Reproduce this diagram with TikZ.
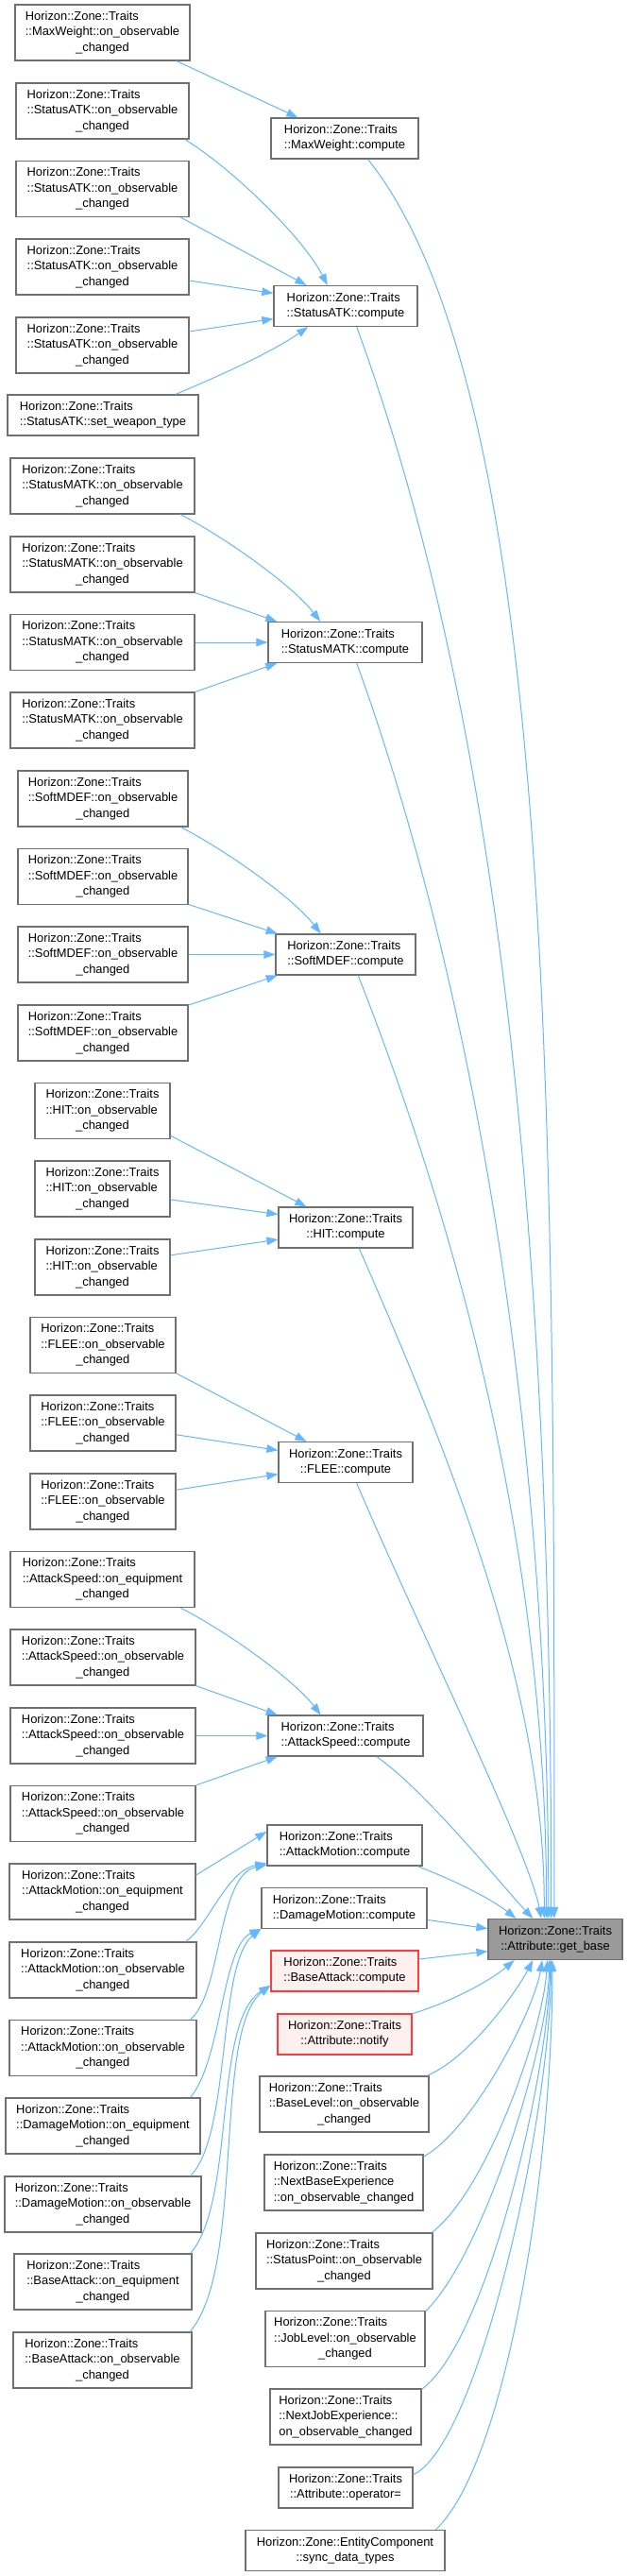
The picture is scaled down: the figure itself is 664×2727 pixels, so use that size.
\documentclass[tikz,border=0pt]{standalone}
\usepackage{fontspec}
\setmainfont{Liberation Sans}
\usetikzlibrary{arrows.meta}

\definecolor{edgeblue}{HTML}{63B8FF}
\definecolor{boxline}{HTML}{707070}
\definecolor{hotline}{HTML}{FF3C3C}
\definecolor{hotfill}{HTML}{FFF0F0}
\definecolor{curfill}{HTML}{9A9A9A}

% label with left lines and a centred last line
\newcommand{\labthree}[3]{\begin{tabular}{@{}l@{}}#1\\#2\\\multicolumn{1}{@{}c@{}}{#3}\end{tabular}}
\newcommand{\labtwo}[2]{\begin{tabular}{@{}l@{}}#1\\\multicolumn{1}{@{}c@{}}{#2}\end{tabular}}
\newcommand{\hzt}{Horizon::Zone::Traits}

\begin{document}
\begin{tikzpicture}[x=1pt, y=-1pt,
    fn/.style={draw=boxline, line width=1.2pt, fill=white, inner sep=0pt,
        minimum height=59pt, font=\fontsize{12.9}{16.3}\selectfont},
    fntwo/.style={fn, minimum height=43pt},
    hot/.style={fntwo, draw=hotline, fill=hotfill},
    cur/.style={fntwo, fill=curfill},
    edge/.style={draw=edgeblue, line width=1pt,
        -{Triangle[length=12pt, width=8.5pt]}}]
    \fill[white] (0, 0) rectangle (664, 2727);
    \useasboundingbox (0, 0) rectangle (664, 2727);

    % callers, left column
    \node[fn, minimum width=185pt] (mwobs) at (108.5, 34.5)
        {\labthree{\hzt}{::MaxWeight::on\_observable}{\_changed}};
    \foreach \n/\y in {atk1/117.5, atk2/200, atk3/282.5, atk4/365.5}
        \node[fn, minimum width=183pt] (\n) at (108.5, \y)
            {\labthree{\hzt}{::StatusATK::on\_observable}{\_changed}};
    \node[fntwo, minimum width=202pt] (atkwt) at (109, 439.5)
        {\labtwo{\hzt}{::StatusATK::set\_weapon\_type}};
    \foreach \n/\y in {matk1/514.5, matk2/597.5, matk3/680, matk4/762.5}
        \node[fn, minimum width=195pt] (\n) at (108.5, \y)
            {\labthree{\hzt}{::StatusMATK::on\_observable}{\_changed}};
    \foreach \n/\y in {mdef1/845.5, mdef2/928, mdef3/1010.5, mdef4/1093.5}
        \node[fn, minimum width=180pt] (\n) at (109, \y)
            {\labthree{\hzt}{::SoftMDEF::on\_observable}{\_changed}};
    \foreach \n/\y in {hit1/1176, hit2/1258.5, hit3/1341.5}
        \node[fn, minimum width=143pt] (\n) at (108.5, \y)
            {\labthree{\hzt}{::HIT::on\_observable}{\_changed}};
    \foreach \n/\y in {flee1/1424, flee2/1506.5, flee3/1589.5}
        \node[fn, minimum width=154pt] (\n) at (109, \y)
            {\labthree{\hzt}{::FLEE::on\_observable}{\_changed}};
    \node[fn, minimum width=195pt] (aspdeq) at (108.5, 1672)
        {\labthree{\hzt}{::AttackSpeed::on\_equipment}{\_changed}};
    \foreach \n/\y in {aspd1/1754.5, aspd2/1837.5, aspd3/1920}
        \node[fn, minimum width=196pt] (\n) at (109, \y)
            {\labthree{\hzt}{::AttackSpeed::on\_observable}{\_changed}};
    \node[fn, minimum width=197pt] (amoteq) at (108.5, 2002.5)
        {\labthree{\hzt}{::AttackMotion::on\_equipment}{\_changed}};
    \foreach \n/\y in {amot1/2085.5, amot2/2168}
        \node[fn, minimum width=198pt] (\n) at (109, \y)
            {\labthree{\hzt}{::AttackMotion::on\_observable}{\_changed}};
    \node[fn, minimum width=206pt] (dmoteq) at (109, 2250.5)
        {\labthree{\hzt}{::DamageMotion::on\_equipment}{\_changed}};
    \node[fn, minimum width=208pt] (dmot1) at (109, 2333.5)
        {\labthree{\hzt}{::DamageMotion::on\_observable}{\_changed}};
    \node[fn, minimum width=188pt] (batkeq) at (109, 2415.5)
        {\labthree{\hzt}{::BaseAttack::on\_equipment}{\_changed}};
    \node[fn, minimum width=189pt] (batk1) at (108.5, 2498.5)
        {\labthree{\hzt}{::BaseAttack::on\_observable}{\_changed}};

    % middle column
    \node[fntwo, minimum width=156pt] (mw) at (365, 146.5) {\labtwo{\hzt}{::MaxWeight::compute}};
    \node[fntwo, minimum width=152pt] (atk) at (366, 324) {\labtwo{\hzt}{::StatusATK::compute}};
    \node[fntwo, minimum width=163pt] (matk) at (365.5, 680) {\labtwo{\hzt}{::StatusMATK::compute}};
    \node[fntwo, minimum width=148pt] (mdef) at (366, 1010.5) {\labtwo{\hzt}{::SoftMDEF::compute}};
    \node[fntwo, minimum width=142pt] (hit) at (366, 1299.5) {\labtwo{\hzt}{::HIT::compute}};
    \node[fntwo, minimum width=142pt] (flee) at (366, 1548) {\labtwo{\hzt}{::FLEE::compute}};
    \node[fntwo, minimum width=164pt] (aspd) at (366, 1837.5) {\labtwo{\hzt}{::AttackSpeed::compute}};
    \node[fntwo, minimum width=164pt] (amot) at (365, 1953.5) {\labtwo{\hzt}{::AttackMotion::compute}};
    \node[fntwo, minimum width=175pt] (dmot) at (364.5, 2020) {\labtwo{\hzt}{::DamageMotion::compute}};
    \node[hot, minimum width=156pt] (batk) at (365, 2086.5) {\labtwo{\hzt}{::BaseAttack::compute}};
    \node[hot, minimum width=142pt] (notify) at (365, 2153.5) {\labtwo{\hzt}{::Attribute::notify}};
    \node[fn, minimum width=179pt] (blvl) at (364.5, 2227.5)
        {\labthree{\hzt}{::BaseLevel::on\_observable}{\_changed}};
    \node[fn, minimum width=168pt] (nbexp) at (364, 2310.5)
        {\labthree{\hzt}{::NextBaseExperience}{::on\_observable\_changed}};
    \node[fn, minimum width=187pt] (spt) at (364.5, 2393.5)
        {\labthree{\hzt}{::StatusPoint::on\_observable}{\_changed}};
    \node[fn, minimum width=169pt] (jlvl) at (365.5, 2476)
        {\labthree{\hzt}{::JobLevel::on\_observable}{\_changed}};
    \node[fn, minimum width=160pt] (njexp) at (366, 2558.5)
        {\labthree{\hzt}{::NextJobExperience::}{on\_observable\_changed}};
    \node[fntwo, minimum width=142pt] (opeq) at (366, 2633.5) {\labtwo{\hzt}{::Attribute::operator=}};
    \node[fntwo, minimum width=211pt] (sync) at (365.5, 2700)
        {\labtwo{Horizon::Zone::EntityComponent}{::sync\_data\_types}};

    % the function itself
    \node[cur, minimum width=142pt] (getbase) at (588, 2053) {\labtwo{\hzt}{::Attribute::get\_base}};

    % calls into the compute functions
    \draw[edge] (mwobs.-21) -- (mw.156);
    \draw[edge] (atk1.-19) .. controls (245, 178) and (320, 250) .. (atk.131);
    \draw[edge] (atk2.-20) -- (atk.152);
    \draw[edge] (atk3.-9) -- (atk.170);
    \draw[edge] (atk4.9) -- (atk.-170);
    \draw[edge] (atkwt.16) .. controls (220, 403) and (285, 375) .. (atk.-151);
    \draw[edge] (matk1.-20) .. controls (240, 570) and (310, 620) .. (matk.140);
    \draw[edge] (matk2.-17) -- (matk.163);
    \draw[edge] (matk3.0) -- (matk.180);
    \draw[edge] (matk4.17) -- (matk.-163);
    \draw[edge] (mdef1.-20) .. controls (240, 901) and (310, 950) .. (mdef.140);
    \draw[edge] (mdef2.-18) -- (mdef.163);
    \draw[edge] (mdef3.0) -- (mdef.180);
    \draw[edge] (mdef4.18) -- (mdef.-163);
    \draw[edge] (hit1.-20) -- (hit.152);
    \draw[edge] (hit2.-9) -- (hit.169);
    \draw[edge] (hit3.10) -- (hit.-170);
    \draw[edge] (flee1.-21) -- (flee.152);
    \draw[edge] (flee2.-9) -- (flee.170);
    \draw[edge] (flee3.9) -- (flee.-170);
    \draw[edge] (aspdeq.-20) .. controls (240, 1727) and (310, 1777) .. (aspd.140);
    \draw[edge] (aspd1.-17) -- (aspd.163);
    \draw[edge] (aspd2.0) -- (aspd.180);
    \draw[edge] (aspd3.17) -- (aspd.-163);
    \draw[edge] (amoteq.10) -- (amot.170);
    \draw[edge] (amot1.19) .. controls (220, 2040) and (240, 1980) .. (amot.-167);
    \draw[edge] (amot2.18) .. controls (235, 2110) and (230, 1985) .. (amot.-166);
    \draw[edge] (dmoteq.18) .. controls (235, 2180) and (235, 2060) .. (dmot.-166);
    \draw[edge] (dmot1.18) .. controls (245, 2260) and (230, 2080) .. (dmot.-166);
    \draw[edge] (batkeq.18) .. controls (250, 2330) and (225, 2140) .. (batk.-169);
    \draw[edge] (batk1.18) .. controls (260, 2400) and (225, 2150) .. (batk.-169);

    % calls into get_base
    \draw[edge] (mw.-42) .. controls (589, 418) and (587, 1200) .. (getbase.93);
    \draw[edge] (atk.-62) .. controls (527, 755) and (584, 1300) .. (getbase.101);
    \draw[edge] (matk.-61) .. controls (497, 1032) and (581, 1500) .. (getbase.108);
    \draw[edge] (mdef.-59) .. controls (489, 1313) and (579, 1650) .. (getbase.113);
    \draw[edge] (hit.-57) .. controls (490, 1572) and (577, 1800) .. (getbase.118);
    \draw[edge] (flee.-62) .. controls (437, 1710) and (560, 1960) .. (getbase.124);
    \draw[edge] (aspd.-34) .. controls (450, 1895) and (535, 2000) .. (getbase.137);
    \draw[edge] (amot.-16) .. controls (480, 1990) and (520, 2010) .. (getbase.152);
    \draw[edge] (dmot.-8) -- (getbase.171);
    \draw[edge] (batk.9) -- (getbase.-170);
    \draw[edge] (notify.17) .. controls (470, 2122) and (515, 2100) .. (getbase.-153);
    \draw[edge] (blvl.19) .. controls (495, 2180) and (545, 2112) .. (getbase.-137);
    \draw[edge] (nbexp.18) .. controls (500, 2255) and (565, 2130) .. (getbase.-122);
    \draw[edge] (spt.18) .. controls (515, 2320) and (575, 2150) .. (getbase.-111);
    \draw[edge] (jlvl.19) .. controls (510, 2390) and (580, 2170) .. (getbase.-106);
    \draw[edge] (njexp.20) .. controls (515, 2480) and (580, 2200) .. (getbase.-103);
    \draw[edge] (opeq.11) .. controls (505, 2590) and (582, 2250) .. (getbase.-101);
    \draw[edge] (sync.13) .. controls (535, 2610) and (585, 2300) .. (getbase.-98);
\end{tikzpicture}
\end{document}
